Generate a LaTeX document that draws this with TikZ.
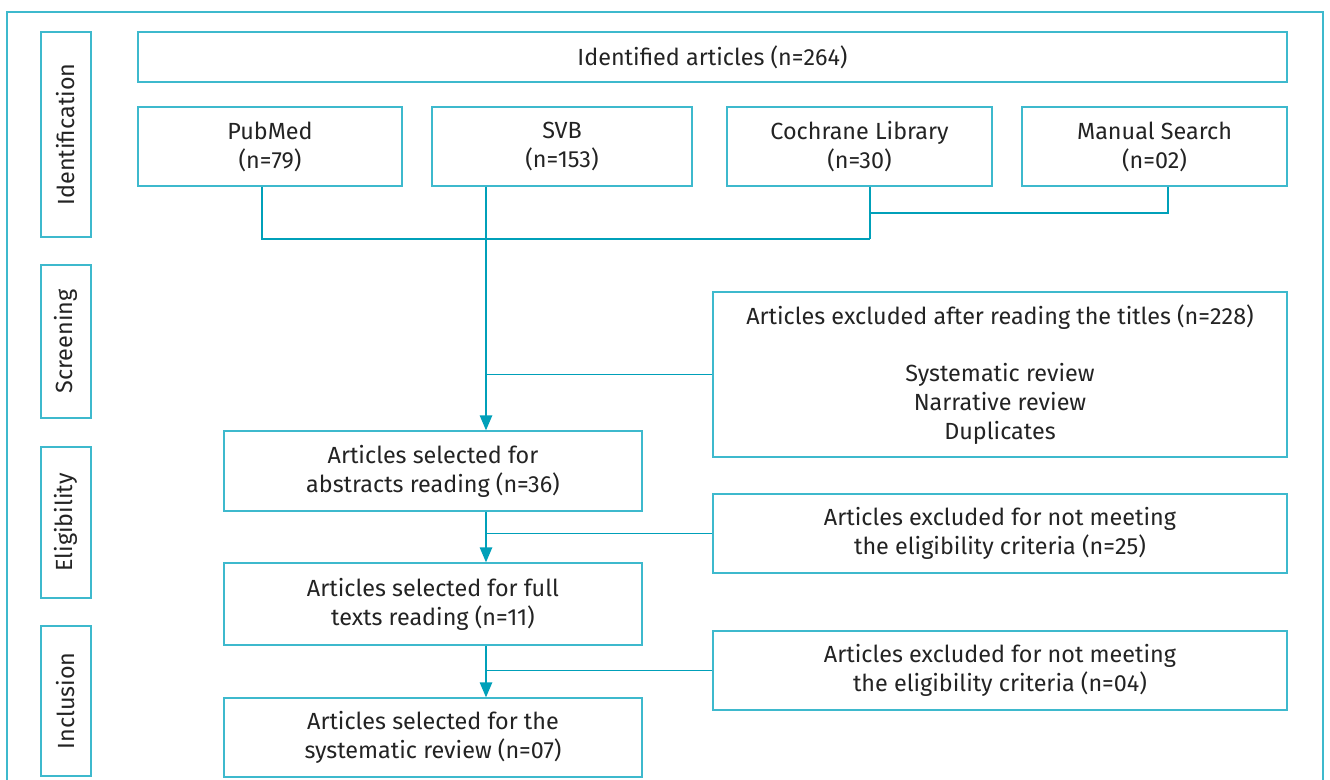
\documentclass[tikz,border=0pt]{standalone}
\usepackage{fontspec}
\setmainfont{Fira Sans}
\usepackage{xcolor}
\usetikzlibrary{arrows.meta,positioning}
\definecolor{flowCyan}{RGB}{62,185,205}
\definecolor{flowTeal}{RGB}{0,160,185}
\definecolor{flowText}{RGB}{35,35,35}

\tikzset{
    box/.style={draw=flowCyan, line width=0.8pt, text=flowText, align=center,
        inner sep=0pt, font=\fontsize{13.3}{16.5}\selectfont},
    phase/.style={box, rotate=90, minimum height=1cm},
    link/.style={draw=flowTeal, line width=0.8pt},
    arr/.style={link, -{Triangle[length=0.3cm, width=0.25cm]}}
}

\begin{document}
\begin{tikzpicture}[x=0.02cm, y=-0.02cm]
    % Page frame (open at the bottom)
    \clip (0,0) rectangle (1330,780);
    \draw[flowCyan, line width=0.8pt] (7,12) rectangle (1323,830);

    % Phase labels
    \node[phase, minimum width=4.1cm] (ident) at (66,134.5) {Identification};
    \node[phase, minimum width=3.06cm] (screen) at (66,341.5) {Screening};
    \node[phase, minimum width=3.02cm] (elig) at (66,522.5) {Eligibility};
    \node[phase, minimum width=3cm] (incl) at (66,701) {Inclusion};

    % Identification
    \node[box, minimum width=22.98cm, minimum height=1cm] (total) at (712.5,57) {Identified articles (n=264)};
    \node[box, minimum width=5.28cm, minimum height=1.58cm] (pubmed) at (270,146.5) {PubMed\\(n=79)};
    \node[box, minimum width=5.2cm, minimum height=1.58cm] (svb) at (562,146.5) {SVB\\(n=153)};
    \node[box, minimum width=5.3cm, minimum height=1.58cm] (cochrane) at (859.5,146.5) {Cochrane Library\\(n=30)};
    \node[box, minimum width=5.3cm, minimum height=1.58cm] (manual) at (1154.5,146.5) {Manual Search\\(n=02)};

    % Screening
    \node[box, minimum width=11.48cm, minimum height=3.3cm] (exclTitles) at (1000,374.5)
        {Articles excluded after reading the titles (n=228)\\[16pt]Systematic review\\Narrative review\\Duplicates};

    % Selected articles
    \node[box, minimum width=8.36cm, minimum height=1.6cm] (abstracts) at (433,471) {Articles selected for\\abstracts reading (n=36)};
    \node[box, minimum width=8.36cm, minimum height=1.64cm] (fulltext) at (433,604) {Articles selected for full\\texts reading (n=11)};
    \node[box, minimum width=8.36cm, minimum height=1.58cm] (final) at (433,737.5) {Articles selected for the\\systematic review (n=07)};

    % Excluded for eligibility
    \node[box, minimum width=11.48cm, minimum height=1.58cm] (exclAbs) at (1000,533.5) {Articles excluded for not meeting\\the eligibility criteria (n=25)};
    \node[box, minimum width=11.48cm, minimum height=1.58cm] (exclFull) at (1000,670.5) {Articles excluded for not meeting\\the eligibility criteria (n=04)};

    % Joining lines
    \coordinate (pmDrop) at (262,239);
    \coordinate (merge) at (870,239);
    \coordinate (msDrop) at (1168,213);
    \coordinate (trunk) at (486,239);

    \draw[link] (pubmed.south -| pmDrop) -- (pmDrop) -- (merge);
    \draw[link] (cochrane.south -| merge) -- (merge);
    \draw[link] (manual.south -| msDrop) -- (msDrop) -- (msDrop -| merge);

    % Main flow
    \draw[arr] (svb.south -| trunk) -- (abstracts.north -| trunk);
    \draw[arr] (abstracts.south -| trunk) -- (fulltext.north -| trunk);
    \draw[arr] (fulltext.south -| trunk) -- (final.north -| trunk);

    % Exclusions
    \draw[link] (exclTitles.west) -- (exclTitles.west -| trunk);
    \draw[link] (exclAbs.west) -- (exclAbs.west -| trunk);
    \draw[link] (exclFull.west) -- (exclFull.west -| trunk);
\end{tikzpicture}
\end{document}
